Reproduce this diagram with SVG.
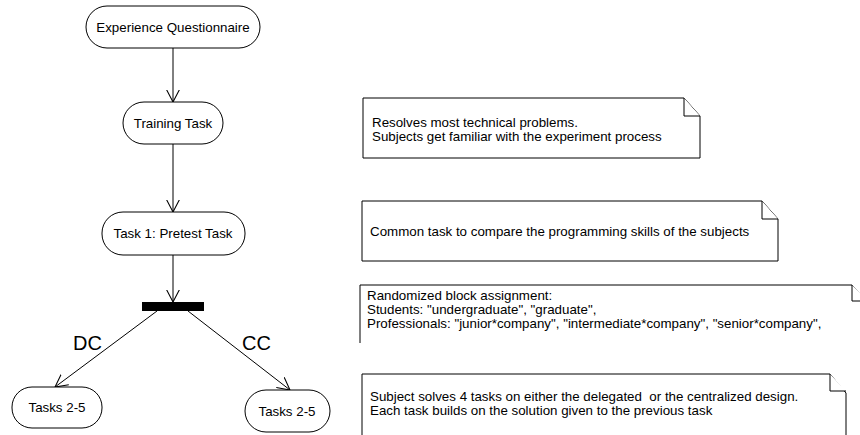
<svg xmlns="http://www.w3.org/2000/svg" width="860" height="435" viewBox="0 0 860 435">
<style>
text{font-family:"Liberation Sans",Arial,sans-serif;font-size:13.33px;fill:#000}
.node rect{fill:#fff;stroke:#000;stroke-width:1}
.node text{text-anchor:middle}
.note path{fill:#fff;stroke:#000;stroke-width:1}
.conn line{stroke:#000;stroke-width:1}
.lbl{font-size:20px}
.pre{white-space:pre}
</style>
<defs>
<marker id="arr" markerUnits="userSpaceOnUse" markerWidth="13" markerHeight="14" viewBox="0 0 12 13" refX="11.5" refY="6.5" orient="auto">
<path d="M0,0.5 L11.5,6.5 L0,12.5" fill="none" stroke="#000" stroke-width="1"/>
</marker>
</defs>
<rect width="860" height="435" fill="#fff"/>
<g id="conn" class="conn">
<line x1="173" y1="48" x2="173" y2="102" marker-end="url(#arr)"/>
<line x1="173" y1="144" x2="173" y2="212" marker-end="url(#arr)"/>
<line x1="173" y1="255" x2="173" y2="302" marker-end="url(#arr)"/>
<line x1="157" y1="311" x2="55" y2="387" marker-end="url(#arr)"/>
<line x1="188" y1="311" x2="290" y2="390" marker-end="url(#arr)"/>
<text class="lbl" x="73" y="350">DC</text>
<text class="lbl" x="242" y="350">CC</text>
</g>
<g id="n-exp" class="node"><rect x="86" y="6" width="174" height="42" rx="21"/><text x="173" y="32">Experience Questionnaire</text></g>
<g id="n-train" class="node"><rect x="123" y="102" width="100" height="42" rx="21"/><text x="173" y="128">Training Task</text></g>
<g id="n-task1" class="node"><rect x="102" y="212" width="143" height="43" rx="21"/><text x="173" y="238">Task 1: Pretest Task</text></g>
<g id="fork"><rect x="142" y="302" width="62" height="9" fill="#000"/></g>
<g id="n-dc" class="node"><rect x="12" y="387" width="90" height="41" rx="20"/><text x="57" y="412">Tasks 2-5</text></g>
<g id="n-cc" class="node"><rect x="245" y="390" width="85" height="42" rx="21"/><text x="287" y="416">Tasks 2-5</text></g>
<g id="note1" class="note">
<path d="M363,98 H684 L700,116 V158 H363 Z"/><path d="M684,98 V116 H700"/>
<text x="372" y="127">Resolves most technical problems.</text>
<text x="372" y="141">Subjects get familiar with the experiment process</text>
</g>
<g id="note2" class="note">
<path d="M362,201 H762 L778,219 V261 H362 Z"/><path d="M762,201 V219 H778"/>
<text x="370" y="236">Common task to compare the programming skills of the subjects</text>
</g>
<g id="note3" class="note">
<path d="M360,343 V285 H852 L868,303 V343"/><path d="M852,285 V301 H868"/>
<text x="367" y="300">Randomized block assignment:</text>
<text x="367" y="314">Students: "undergraduate", "graduate",</text>
<text x="367" y="328">Professionals: "junior*company", "intermediate*company", "senior*company",</text>
</g>
<g id="note4" class="note">
<path d="M362,440 V374 H830 L846,393 V440"/><path d="M830,374 V391 H846"/>
<text class="pre" x="370" y="401">Subject solves 4 tasks on either the delegated  or the centralized design.</text>
<text x="370" y="415">Each task builds on the solution given to the previous task</text>
</g>
</svg>
